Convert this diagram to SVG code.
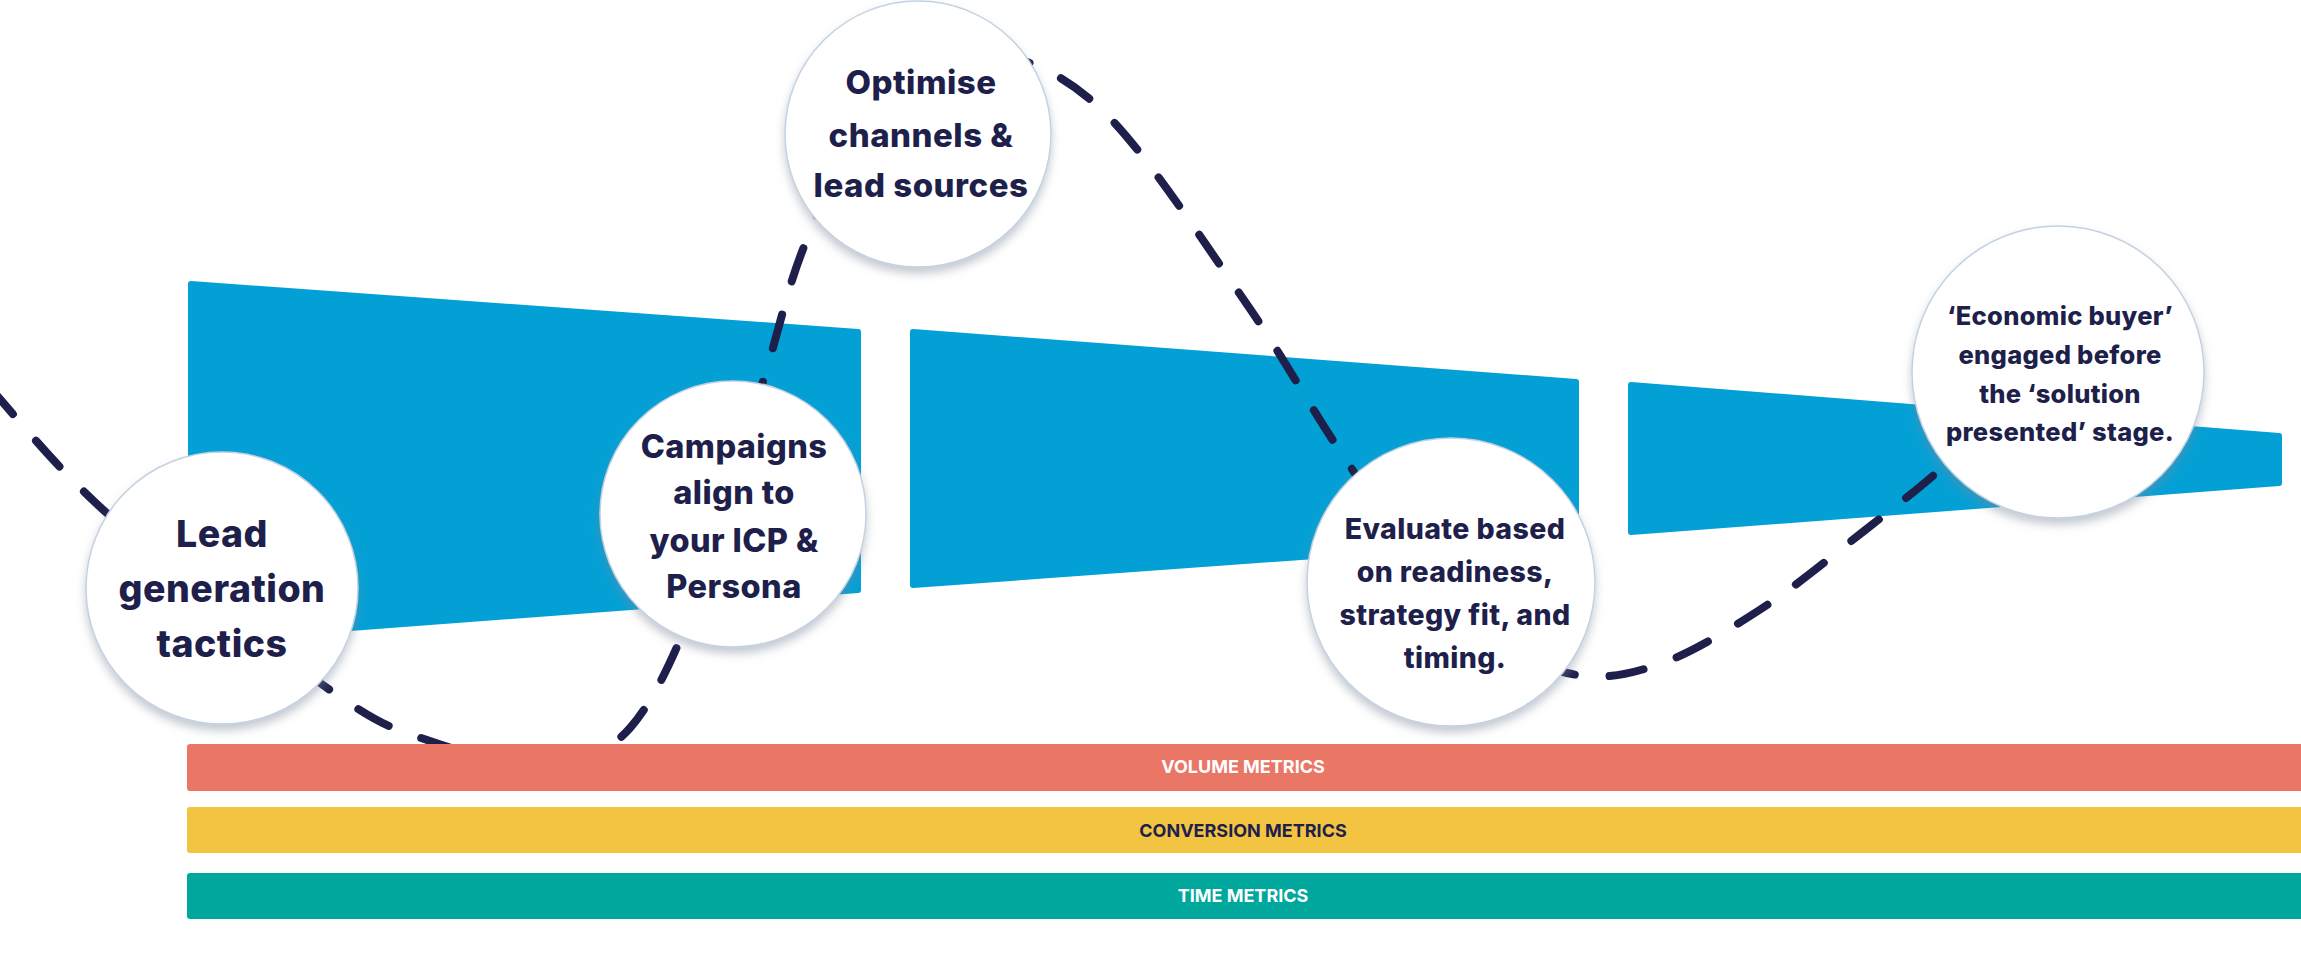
<svg xmlns="http://www.w3.org/2000/svg" width="2301" height="965" viewBox="0 0 2301 965">
<defs>
<filter id="sh" x="-20%" y="-20%" width="140%" height="150%">
<feDropShadow dx="0" dy="6" stdDeviation="5" flood-color="#7a8898" flood-opacity="0.45"/>
</filter>
<style>
.funnel{fill:#03a0d6;stroke:#03a0d6;stroke-width:6;stroke-linejoin:round}
.conn{fill:none;stroke:#1e1f4b;stroke-width:8;stroke-linecap:round;stroke-dasharray:35 35}
.bubble{fill:#ffffff;stroke:#c3d2e3;stroke-width:1.5;filter:url(#sh)}
.lbl{font-family:Inter,"Noto Sans",sans-serif;font-weight:800;fill:#1e1f4b;text-anchor:middle}
.bar{font-family:Inter,"Noto Sans",sans-serif;font-weight:700;font-size:18px;text-anchor:middle}
</style>
</defs>
<rect width="2301" height="965" fill="#ffffff"/>
<g id="funnel">
<polygon class="funnel" points="191,284 858,332 858,590 191,640"/>
<polygon class="funnel" points="913,332 1576,382 1576,537 913,585"/>
<polygon class="funnel" points="1631,385 2279,436 2279,483 1631,532"/>
</g>
<g id="connectors">
<path class="conn" d="M -10 388 C 10 409 53.3 465.7 110 516 C 166.7 566.3 276.7 652.5 330 690 C 383.3 727.5 394.2 728.7 430 741 C 465.8 753.3 511.7 766.2 545 764 C 578.3 761.8 604.2 757 630 728 C 655.8 699 677.5 648.8 700 590 C 722.5 531.2 746.7 434.7 765 375 C 783.3 315.3 787.5 284.5 810 232 C 832.5 179.5 869.2 90 900 60 C 930.8 30 960.5 42.8 995 52 C 1029.5 61.2 1065.2 73.2 1107 115 C 1148.8 156.8 1206.8 246.5 1246 303 C 1285.2 359.5 1306.3 401.2 1342 454 C 1377.7 506.8 1422.5 583.5 1460 620 C 1497.5 656.5 1534.2 665.5 1567 673 C 1599.8 680.5 1624.7 675.7 1657 665 C 1689.3 654.3 1726.5 631.3 1761 609 C 1795.5 586.7 1833.7 554.7 1864 531 C 1894.3 507.3 1918.7 488.8 1943 467 C 1967.3 445.2 1998.8 411.2 2010 400"/>
</g>
<g id="metrics">
<g id="volume">
<rect x="187" y="744" width="2118" height="47" rx="3" fill="#ea7666"/>
<text class="bar" x="1243" y="773" fill="#ffffff">VOLUME METRICS</text>
</g>
<g id="conversion">
<rect x="187" y="807" width="2118" height="46" rx="3" fill="#f3c442"/>
<text class="bar" x="1243" y="837" fill="#1e1f4b">CONVERSION METRICS</text>
</g>
<g id="time">
<rect x="187" y="873" width="2118" height="46" rx="3" fill="#00a79d"/>
<text class="bar" x="1243" y="902" fill="#ffffff">TIME METRICS</text>
</g>
</g>
<g id="node-lead">
<circle class="bubble" cx="222" cy="588" r="136"/>
<text class="lbl" font-size="37.5" letter-spacing="0.5" x="222"><tspan x="222" y="547">Lead</tspan><tspan x="222" y="602">generation</tspan><tspan x="222" y="657">tactics</tspan></text>
</g>
<g id="node-campaigns">
<circle class="bubble" cx="733" cy="514" r="133"/>
<text class="lbl" font-size="32.5" letter-spacing="0.4" x="734"><tspan x="734" y="458">Campaigns</tspan><tspan x="734" y="504">align to</tspan><tspan x="734" y="552">your ICP &amp;</tspan><tspan x="734" y="598">Persona</tspan></text>
</g>
<g id="node-optimise">
<circle class="bubble" cx="918" cy="134" r="133"/>
<text class="lbl" font-size="33" letter-spacing="0.5" x="921"><tspan x="921" y="94">Optimise</tspan><tspan x="921" y="147">channels &amp;</tspan><tspan x="921" y="197">lead sources</tspan></text>
</g>
<g id="node-evaluate">
<circle class="bubble" cx="1451" cy="582" r="144"/>
<text class="lbl" font-size="28.5" letter-spacing="0.4" x="1455"><tspan x="1455" y="539">Evaluate based</tspan><tspan x="1455" y="582">on readiness,</tspan><tspan x="1455" y="625">strategy fit, and</tspan><tspan x="1455" y="668">timing.</tspan></text>
</g>
<g id="node-economic">
<circle class="bubble" cx="2058" cy="372" r="146"/>
<text class="lbl" font-size="25.5" letter-spacing="0.3" x="2060"><tspan x="2060" y="325">‘Economic buyer’</tspan><tspan x="2060" y="364">engaged before</tspan><tspan x="2060" y="403">the ‘solution</tspan><tspan x="2060" y="441">presented’ stage.</tspan></text>
</g>
</svg>
